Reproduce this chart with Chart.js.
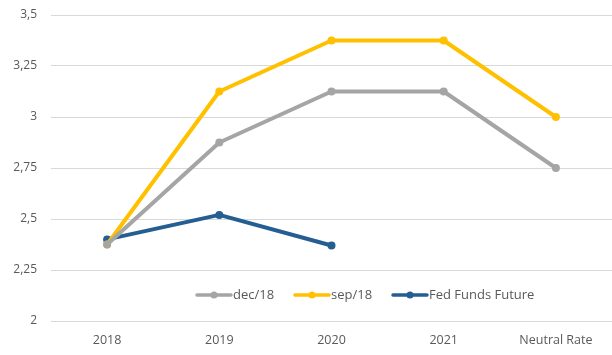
<!DOCTYPE html>
<html><head><meta charset="utf-8">
<script src="https://cdn.jsdelivr.net/npm/chart.js@4"></script>
<style>html,body{margin:0;padding:0;background:#fff}#w{width:612px;height:355px}</style>
</head><body><div id="w"><canvas id="c"></canvas></div>
<script>
const categories = ["2018","2019","2020","2021","Neutral Rate"];
const dec18 = [2.375, 2.875, 3.125, 3.125, 2.75];
const sep18 = [2.375, 3.125, 3.375, 3.375, 3.0];
const fedFunds = [2.40, 2.52, 2.37, null, null];
const yTicks = [2, 2.25, 2.5, 2.75, 3, 3.25, 3.5];
const fmt = v => String(v).replace('.', ',');

const legendPlugin = {
  id: 'insideLegend',
  afterDraw(chart) {
    const ctx = chart.ctx;
    const items = [
      {x: 197, label: 'dec/18', color: '#A5A5A5'},
      {x: 295, label: 'sep/18', color: '#FFC000'},
      {x: 393, label: 'Fed Funds Future', color: '#255E91'}
    ];
    const y = 295;
    ctx.save();
    items.forEach(it => {
      ctx.strokeStyle = it.color; ctx.lineWidth = 3.5; ctx.lineCap = 'round';
      ctx.beginPath(); ctx.moveTo(it.x, y); ctx.lineTo(it.x + 34, y); ctx.stroke();
      ctx.fillStyle = it.color; ctx.beginPath(); ctx.arc(it.x + 17, y, 3.5, 0, Math.PI*2); ctx.fill();
      ctx.fillStyle = '#595959'; ctx.font = '13px "Open Sans", sans-serif';
      ctx.textBaseline = 'middle'; ctx.textAlign = 'left';
      ctx.fillText(it.label, it.x + 36, y);
    });
    ctx.restore();
  }
};

const ds = (label, data, color) => ({
  label, data, borderColor: color, backgroundColor: color,
  borderWidth: 4, pointRadius: 4, pointHoverRadius: 4,
  pointBorderWidth: 0, tension: 0, spanGaps: false, borderCapStyle: 'round', borderJoinStyle: 'round'
});

new Chart(document.getElementById('c'), {
  type: 'line',
  data: {
    labels: categories,
    datasets: [ds('dec/18', dec18, '#A5A5A5'), ds('sep/18', sep18, '#FFC000'), ds('Fed Funds Future', fedFunds, '#255E91')]
  },
  options: {
    responsive: true, maintainAspectRatio: false, animation: false,
    layout: {autoPadding: false, padding: {top: 15, right: 0, left: 0, bottom: 0}},
    plugins: {legend: {display: false}, tooltip: {enabled: false}},
    scales: {
      x: {
        offset: true,
        afterFit: ax => { ax.height = 34; ax.paddingLeft = 0; ax.paddingRight = 0; },
        grid: {display: false, drawTicks: false},
        border: {display: false},
        ticks: {color: '#595959', font: {family: '"Open Sans", sans-serif', size: 12.5}, padding: 12}
      },
      y: {
        min: 2, max: 3.5,
        afterFit: ax => { ax.width = 51; ax.paddingTop = 0; ax.paddingBottom = 0; },
        afterBuildTicks: ax => { ax.ticks = yTicks.map(v => ({value: v})); },
        grid: {color: '#D9D9D9', lineWidth: 1, drawTicks: false},
        border: {display: false},
        ticks: {color: '#595959', font: {family: '"Open Sans", sans-serif', size: 12}, padding: 14, callback: v => fmt(v)}
      }
    }
  },
  plugins: [legendPlugin]
});
</script></body></html>
